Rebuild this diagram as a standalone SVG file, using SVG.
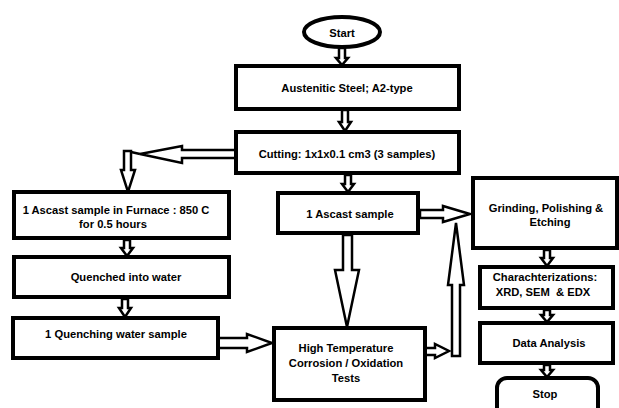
<svg xmlns="http://www.w3.org/2000/svg" width="619" height="408" viewBox="0 0 619 408">
<style>
.box{fill:#fff;stroke:#000;stroke-width:4}
.arr{fill:#fff;stroke:#000;stroke-width:2.5;stroke-linejoin:miter}
.t{font-family:"Liberation Sans",Arial,sans-serif;font-weight:bold;font-size:11.2px;fill:#000;text-anchor:middle;white-space:pre}
</style>
<rect width="619" height="408" fill="#fff"/>
<g id="connectors">
<polygon class="arr" points="339,48 345,48 345,58 348,58 342,65 336,58 339,58"/>
<polygon class="arr" points="342,110 348,110 348,122 351,122 345,131 339,122 342,122"/>
<polygon class="arr" points="345,175 351,175 351,184 354,184 348,192 342,184 345,184"/>
<polygon class="arr" points="236,150 182,150 182,146 140,154 182,163 182,158 236,158"/>
<line x1="131" y1="152" x2="140" y2="154" stroke="#000" stroke-width="2.5"/>
<polygon class="arr" points="124,151 131,151 131,170 135,170 128,192 121,170 124,170"/>
<polygon class="arr" points="124,240 130,240 130,248 133,248 127,256 121,248 124,248"/>
<polygon class="arr" points="122,299 128,299 128,308 131,308 125,317 119,308 122,308"/>
<polygon class="arr" points="218,338 247,338 247,334 272,343 247,352 247,348 218,348"/>
<polygon class="arr" points="343,235 352,235 352,270 359,270 347,327 335,270 343,270"/>
<polygon class="arr" points="420,210 443,210 443,206 470,214 443,222 443,218 420,218"/>
<polygon class="arr" points="425,348 435,348 435,344 449,351 435,358 435,355 425,355"/>
<polygon class="arr" points="452,356 460,356 460,285 464,285 456,223 448,285 452,285"/>
<polygon class="arr" points="544,250 550,250 550,258 553,258 547,266 541,258 544,258"/>
<polygon class="arr" points="544,310 550,310 550,315 553,315 547,322 541,315 544,315"/>
<polygon class="arr" points="544,365 550,365 550,370 553,370 547,377 541,370 544,370"/>
</g>
<g id="start"><ellipse class="box" cx="342" cy="32" rx="38" ry="15" stroke-width="3"/><text class="t" x="342" y="37">Start</text></g>
<g id="austenitic"><rect class="box" x="236" y="66" width="223" height="43"/><text class="t" x="347" y="92">Austenitic Steel; A2-type</text></g>
<g id="cutting"><rect class="box" x="236" y="132" width="223" height="41"/><text class="t" x="347" y="158">Cutting: 1x1x0.1 cm3 (3 samples)</text></g>
<g id="furnace"><rect class="box" x="14" y="192" width="215" height="46"/><text class="t" x="116" y="214">1 Ascast sample in Furnace : 850 C</text><text class="t" x="113" y="228">for 0.5 hours</text></g>
<g id="quenched"><rect class="box" x="14" y="257" width="215" height="40"/><text class="t" x="126" y="281">Quenched into water</text></g>
<g id="quenching"><rect class="box" x="13" y="318" width="205" height="40"/><text class="t" x="116" y="338">1 Quenching water sample</text></g>
<g id="ascast"><rect class="box" x="278" y="193" width="140" height="40"/><text class="t" x="350" y="218">1 Ascast sample</text></g>
<g id="hightemp"><rect class="box" x="274" y="328" width="151" height="72"/><text class="t" x="346" y="352">High Temperature</text><text class="t" x="346" y="367">Corrosion / Oxidation</text><text class="t" x="346" y="382">Tests</text></g>
<g id="grinding"><rect class="box" x="473" y="178" width="144" height="70"/><text class="t" x="546" y="212">Grinding, Polishing &amp;</text><text class="t" x="550" y="226">Etching</text></g>
<g id="charac"><rect class="box" x="480" y="267" width="133" height="41"/><text class="t" x="545" y="281">Charachterizations:</text><text class="t" x="543" y="296">XRD, SEM  &amp; EDX</text></g>
<g id="data"><rect class="box" x="480" y="323" width="133" height="40"/><text class="t" x="549" y="347">Data Analysis</text></g>
<g id="stop"><rect class="box" x="497" y="378" width="101" height="45" rx="10"/><text class="t" x="545" y="398">Stop</text></g>
</svg>
